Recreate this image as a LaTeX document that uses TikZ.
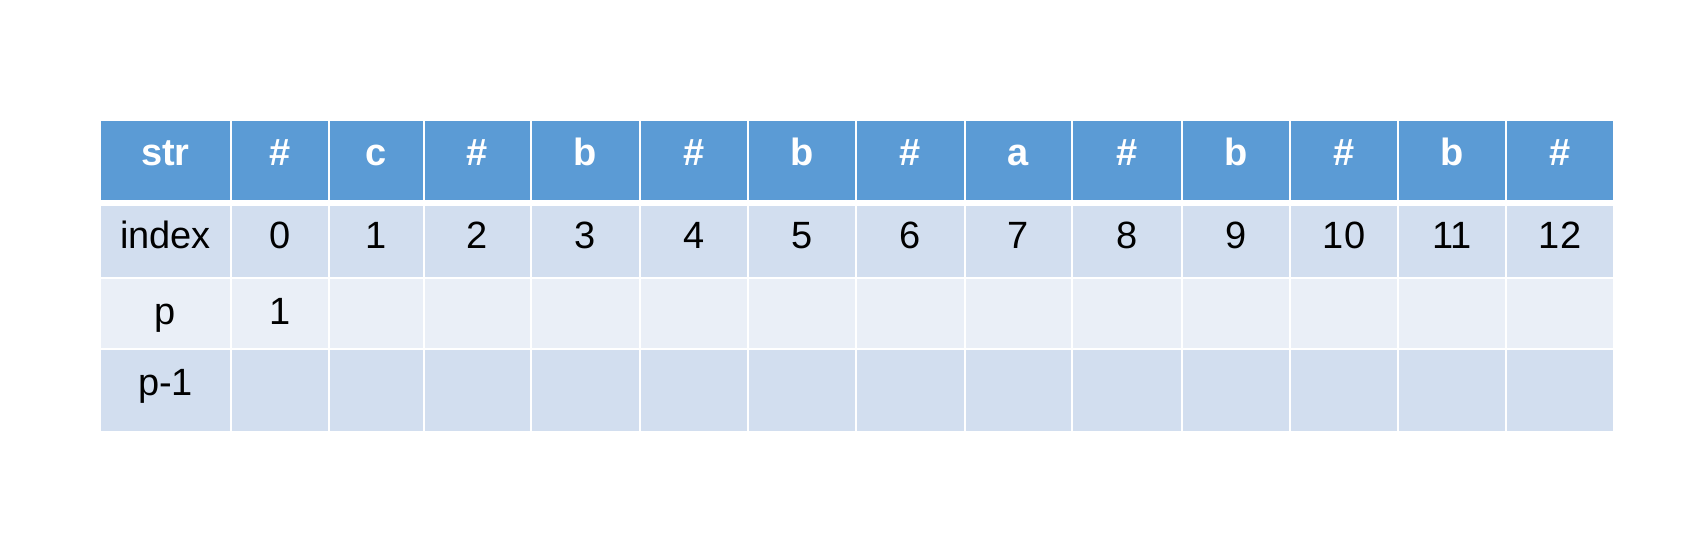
\documentclass[tikz,border=0pt]{standalone}
\usepackage{fontspec}
\setmainfont{Liberation Sans}
\definecolor{hdr}{HTML}{5B9BD5}
\definecolor{rowa}{HTML}{D2DEEF}
\definecolor{rowb}{HTML}{EAEFF7}
\newcommand\hsh{\#}
\tikzset{
  celltxt/.style={anchor=base,inner sep=0pt,font=\fontsize{19}{22}\selectfont,text=black},
  hdrtxt/.style={celltxt,font=\fontsize{19}{22}\selectfont\bfseries,text=white}
}
\begin{document}
\begin{tikzpicture}[x=0.5pt,y=-0.5pt]
\useasboundingbox (0,0) rectangle (1706,532);
\fill[white] (0,0) rectangle (1706,532);
\foreach \l/\r/\h/\i/\p [count=\c] in {
  101/230/str/index/p,
  232/328/\hsh/0/1,
  330/423/c/1/{},
  425/530/\hsh/2/{},
  532/639/b/3/{},
  641/747/\hsh/4/{},
  749/855/b/5/{},
  857/964/\hsh/6/{},
  966/1071/a/7/{},
  1073/1181/\hsh/8/{},
  1183/1289/b/9/{},
  1291/1397/\hsh/10/{},
  1399/1505/b/11/{},
  1507/1613/\hsh/12/{}}{
  \fill[hdr] (\l,121) rectangle (\r,200);
  \fill[rowa] (\l,206) rectangle (\r,277);
  \fill[rowb] (\l,279) rectangle (\r,348);
  \fill[rowa] (\l,350) rectangle (\r,431);
  \node[hdrtxt] (h\c) at ({(\l+\r)/2},165) {\h};
  \node[celltxt] (i\c) at ({(\l+\r)/2},248) {\i};
  \node[celltxt] (p\c) at ({(\l+\r)/2},324) {\p};
}
\node[celltxt] (q1) at (165.5,395) {p-1};
\end{tikzpicture}
\end{document}
